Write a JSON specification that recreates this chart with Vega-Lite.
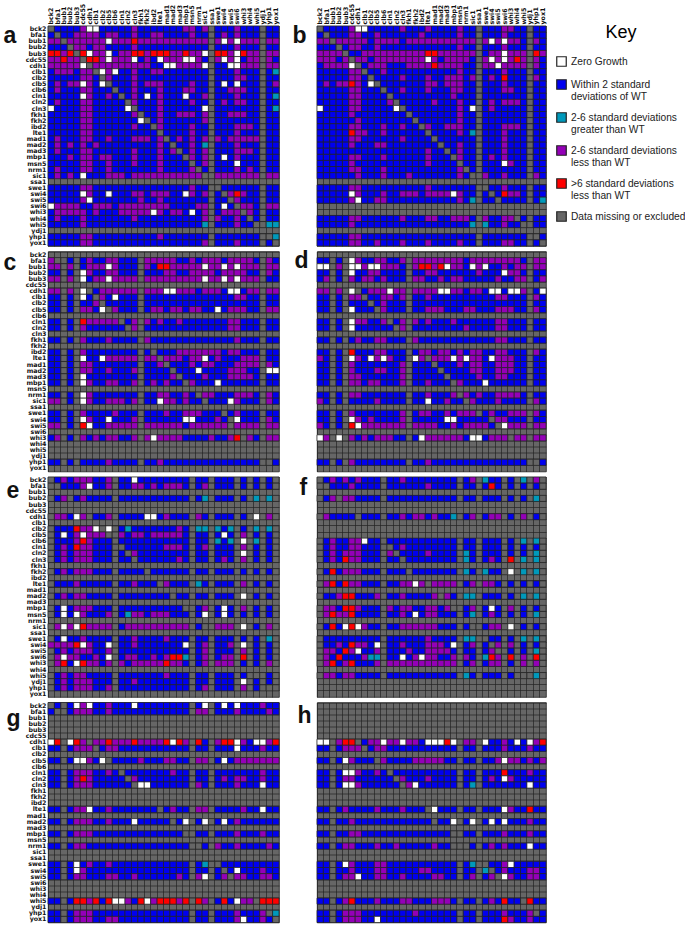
{"$schema":"https://vega.github.io/schema/vega-lite/v6.json","padding":{"left":2,"top":2,"right":0,"bottom":0},"background":"white",
"params":[{"name":"genes","value":["bck2","bfa1","bub1","bub2","bub3","cdc55","cdh1","clb1","clb2","clb5","clb6","cln1","cln2","cln3","fkh1","fkh2","ibd2","lte1","mad1","mad2","mad3","mbp1","msn5","nrm1","sic1","ssa1","swe1","swi4","swi5","swi6","whi3","whi4","whi5","ydj1","yhp1","yox1"]}],
"datasets":{
"a":[
{"r":"bck2","v":[5,1,1,1,1,3,0,0,1,1,1,1,1,3,1,1,1,1,1,1,1,3,3,1,3,5,1,1,1,3,1,1,1,5,1,1]},
{"r":"bfa1","v":[1,5,1,1,3,3,3,3,1,3,3,1,1,3,1,1,3,3,1,1,1,1,3,1,1,5,1,3,1,3,1,1,1,5,1,1]},
{"r":"bub1","v":[3,3,5,3,3,3,3,3,3,0,3,3,3,4,3,3,3,3,3,3,3,3,3,3,3,5,3,0,3,0,3,3,3,5,3,3]},
{"r":"bub2","v":[1,1,1,5,3,3,1,3,3,1,1,1,1,3,1,1,1,1,1,1,1,1,1,1,1,5,1,1,1,3,1,1,1,5,1,1]},
{"r":"bub3","v":[4,4,3,4,5,4,0,3,3,0,1,3,3,4,4,3,4,4,4,3,3,4,3,3,0,5,4,4,3,0,4,3,3,5,3,3]},
{"r":"cdc55","v":[3,3,4,3,3,5,4,4,3,0,3,3,3,0,1,3,1,0,3,3,3,0,0,3,1,5,3,0,3,0,1,3,3,5,3,1]},
{"r":"cdh1","v":[3,3,3,3,3,0,5,3,3,3,3,3,3,3,3,3,1,1,0,0,3,3,3,3,0,5,1,1,0,0,3,3,3,5,3,3]},
{"r":"clb1","v":[1,3,3,3,1,3,3,5,0,3,0,1,1,3,1,1,3,3,1,1,1,1,1,1,1,5,1,1,1,3,1,1,1,5,1,2]},
{"r":"clb2","v":[1,1,1,1,1,3,3,1,5,3,1,1,1,3,1,1,1,1,1,1,1,1,1,1,1,5,1,1,1,3,3,1,1,5,1,1]},
{"r":"clb5","v":[1,3,1,3,3,0,3,1,0,5,1,1,1,3,1,3,3,3,1,1,1,1,3,1,1,5,1,0,1,0,1,1,1,5,1,3]},
{"r":"clb6","v":[1,3,1,1,1,3,3,1,1,1,5,1,1,3,1,1,1,3,1,1,1,3,3,1,1,5,1,1,3,3,3,1,1,5,1,1]},
{"r":"cln1","v":[1,1,1,1,1,0,3,1,1,3,1,5,1,3,1,0,1,3,1,1,1,0,1,1,3,5,1,1,1,3,1,1,1,5,1,2]},
{"r":"cln2","v":[1,3,1,1,1,3,3,1,1,1,1,1,5,3,1,1,1,3,1,1,1,1,3,1,1,5,1,3,1,3,3,1,1,5,1,1]},
{"r":"cln3","v":[0,1,1,1,1,3,3,1,1,1,1,1,0,5,1,1,1,3,1,1,1,1,1,1,0,5,1,1,1,1,1,1,1,5,1,2]},
{"r":"fkh1","v":[1,1,1,1,1,3,3,1,1,1,1,1,1,3,5,1,1,3,1,1,3,3,3,1,3,5,1,1,3,3,3,1,1,5,1,1]},
{"r":"fkh2","v":[1,1,1,1,1,3,3,1,1,1,1,1,1,1,0,5,1,3,1,1,1,1,1,1,3,5,1,1,1,1,1,1,1,5,1,1]},
{"r":"ibd2","v":[1,1,1,1,1,3,3,1,1,1,1,1,1,3,1,1,5,3,1,1,1,1,3,1,1,5,1,1,1,3,3,3,1,5,1,1]},
{"r":"lte1","v":[1,1,1,1,1,3,3,1,1,1,1,1,1,1,1,1,1,5,1,1,1,1,3,1,1,5,1,1,1,3,1,1,1,5,1,1]},
{"r":"mad1","v":[1,3,1,1,1,3,3,1,1,3,1,1,1,3,3,3,1,3,5,1,3,1,3,1,3,5,3,1,3,3,3,3,3,5,1,1]},
{"r":"mad2","v":[1,3,1,3,1,3,1,3,1,1,1,1,1,1,1,1,1,3,1,5,1,1,3,1,2,5,1,1,1,3,1,1,1,5,1,1]},
{"r":"mad3","v":[1,3,1,1,1,3,3,1,1,1,1,1,1,3,1,1,1,3,1,3,5,1,3,1,3,5,1,1,1,3,3,3,1,5,1,1]},
{"r":"mbp1","v":[1,1,1,3,1,3,3,1,3,3,1,1,1,3,1,1,1,3,1,1,1,5,3,1,3,5,1,0,1,3,1,1,1,5,1,1]},
{"r":"msn5","v":[1,1,1,1,1,3,3,1,1,3,1,1,1,3,1,1,1,3,1,1,1,1,5,1,3,5,1,1,1,0,1,1,1,5,1,1]},
{"r":"nrm1","v":[1,3,1,1,1,3,3,1,1,3,1,1,1,1,1,1,1,3,1,1,1,1,3,5,1,5,1,1,1,3,1,3,1,5,1,1]},
{"r":"sic1","v":[1,3,1,3,1,0,1,1,1,3,3,3,1,3,3,3,3,3,3,3,3,3,3,3,5,5,3,3,3,3,3,3,3,5,3,3]},
{"r":"swe1","v":[1,1,1,1,1,3,3,1,1,1,1,1,1,1,1,1,1,1,1,1,1,1,3,1,1,5,5,1,1,1,1,1,1,5,1,1]},
{"r":"swi4","v":[1,1,1,1,1,0,3,1,1,0,1,1,1,3,3,1,3,3,3,1,1,0,3,1,3,5,1,5,3,4,3,1,1,5,1,1]},
{"r":"swi5","v":[1,1,1,1,1,3,0,1,1,1,1,1,1,1,3,1,1,3,1,1,1,1,1,1,1,5,1,1,5,3,1,1,1,5,1,1]},
{"r":"swi6","v":[0,3,3,3,3,1,1,3,3,3,1,3,3,3,3,3,3,3,3,1,1,1,1,3,3,5,1,0,1,5,3,3,1,5,3,3]},
{"r":"whi3","v":[1,3,3,3,3,3,1,3,1,1,1,3,3,3,3,3,0,3,1,3,3,1,0,1,3,5,1,3,3,3,5,3,1,5,1,1]},
{"r":"whi4","v":[1,3,1,1,1,3,1,1,1,1,1,1,1,3,1,1,1,1,1,1,1,1,1,1,3,5,3,1,1,3,1,5,1,5,1,1]},
{"r":"whi5","v":[1,1,1,1,1,3,1,1,1,1,1,1,1,1,1,1,1,1,1,1,1,1,1,1,2,5,1,1,1,3,1,1,5,5,2,2]},
{"r":"yhp1","v":[1,1,1,1,1,3,3,1,1,1,1,1,1,1,1,1,1,3,1,1,1,1,1,1,1,5,1,1,1,1,1,1,1,5,5,2]},
{"r":"yox1","v":[1,1,1,1,1,3,3,1,1,1,1,1,1,1,1,1,1,1,1,1,1,1,1,1,3,5,1,1,1,3,1,1,1,5,1,5]}],
"b":[
{"r":"bck2","v":[5,1,1,1,1,3,0,0,1,1,1,1,1,3,1,1,1,3,1,1,1,1,3,1,1,5,1,1,1,3,3,1,1,5,1,1]},
{"r":"bfa1","v":[1,5,1,1,1,3,3,1,1,3,1,1,1,1,1,1,3,1,1,1,1,1,3,1,1,5,1,1,1,3,1,1,1,5,1,1]},
{"r":"bub1","v":[3,3,5,3,3,3,3,3,1,3,3,3,3,1,3,3,3,3,3,3,3,3,3,3,3,5,3,0,3,0,3,3,1,5,3,1]},
{"r":"bub2","v":[1,1,1,5,1,3,3,1,1,3,1,1,1,1,1,1,1,1,1,1,1,1,3,1,1,5,1,1,1,3,1,1,1,5,1,1]},
{"r":"bub3","v":[3,3,3,3,5,1,1,3,3,3,3,3,3,3,3,3,3,4,4,3,3,3,3,3,3,5,1,3,3,0,3,3,3,5,4,3]},
{"r":"cdc55","v":[3,3,3,1,3,5,3,3,1,3,3,3,3,3,3,3,3,0,3,1,3,3,3,3,1,5,3,0,3,0,3,4,3,5,3,1]},
{"r":"cdh1","v":[1,3,3,3,3,0,5,1,3,3,3,1,1,1,3,3,3,3,4,3,3,3,3,1,1,5,3,3,0,3,3,3,3,5,3,1]},
{"r":"clb1","v":[1,1,1,1,1,3,3,5,1,1,3,1,1,1,1,1,1,1,1,1,1,1,3,1,1,5,1,1,1,3,1,1,1,5,1,1]},
{"r":"clb2","v":[1,1,1,1,1,3,3,1,5,1,1,1,1,3,1,1,1,3,1,1,3,3,3,1,3,5,1,3,1,4,1,1,1,5,3,1]},
{"r":"clb5","v":[1,3,1,3,3,4,3,1,0,5,1,1,1,1,1,1,1,3,3,1,3,3,3,1,1,5,1,1,1,3,1,1,1,5,1,1]},
{"r":"clb6","v":[1,1,1,1,1,3,3,1,1,1,5,1,1,3,1,1,1,3,1,1,1,3,3,1,1,5,1,1,1,3,3,1,1,5,1,1]},
{"r":"cln1","v":[1,1,1,1,1,3,3,1,1,1,1,5,1,1,1,1,1,1,1,1,1,3,1,1,1,5,1,1,1,1,1,1,1,5,1,1]},
{"r":"cln2","v":[1,1,1,1,1,3,3,1,1,1,1,3,5,1,1,1,1,1,3,1,1,1,3,1,1,5,1,3,1,3,3,3,1,5,1,1]},
{"r":"cln3","v":[0,1,1,1,1,3,3,1,1,1,1,1,0,5,1,1,1,1,1,1,1,1,3,1,0,5,1,3,1,1,1,1,1,5,1,1]},
{"r":"fkh1","v":[1,1,1,1,1,3,1,1,1,1,1,1,1,1,5,1,1,1,1,1,1,1,3,1,1,5,1,1,1,1,1,1,1,5,1,1]},
{"r":"fkh2","v":[1,1,1,1,1,1,3,1,1,1,1,1,1,1,1,5,1,1,1,1,1,1,3,1,1,5,1,1,1,1,1,1,1,5,1,1]},
{"r":"ibd2","v":[1,1,1,1,1,3,3,1,1,1,3,1,1,3,1,1,5,3,1,1,3,3,3,1,1,5,1,1,1,3,3,3,1,5,1,1]},
{"r":"lte1","v":[1,1,1,1,1,4,3,3,1,1,3,1,1,1,1,1,1,5,1,1,1,1,3,1,2,5,1,1,1,3,1,1,1,5,1,1]},
{"r":"mad1","v":[1,1,1,1,1,3,3,1,1,1,1,1,1,3,1,1,1,1,5,1,1,1,1,1,1,5,1,1,1,3,1,1,1,5,1,1]},
{"r":"mad2","v":[1,1,1,1,1,3,1,1,1,3,3,1,1,1,1,1,1,1,1,5,1,1,3,1,1,5,1,1,1,3,1,1,1,5,1,1]},
{"r":"mad3","v":[1,1,1,1,1,1,1,1,1,1,1,1,1,1,1,1,1,3,1,1,5,1,3,1,1,5,1,1,1,3,1,1,1,5,1,1]},
{"r":"mbp1","v":[1,1,1,1,1,3,3,1,1,1,3,1,1,1,1,1,1,3,1,1,1,5,3,1,1,5,1,3,1,3,1,1,1,5,1,1]},
{"r":"msn5","v":[1,1,1,1,1,3,1,1,1,1,1,1,1,1,1,1,1,3,1,1,1,1,5,1,1,5,1,1,1,0,3,1,1,5,1,1]},
{"r":"nrm1","v":[1,1,1,1,1,3,3,1,1,1,3,1,1,1,1,1,1,1,1,1,1,1,3,5,1,5,1,1,1,1,1,1,1,5,1,1]},
{"r":"sic1","v":[1,1,1,1,1,1,3,1,1,1,3,1,1,1,3,1,1,1,1,1,1,1,3,1,5,5,3,1,1,3,1,1,1,5,3,1]},
{"r":"swe1","v":[1,1,1,1,1,3,3,1,1,1,1,1,1,1,1,1,1,3,1,1,1,1,1,1,1,5,5,1,1,3,1,1,1,5,1,1]},
{"r":"swi4","v":[1,1,1,1,1,0,3,1,1,1,3,1,1,3,3,3,1,3,3,3,3,0,3,1,1,5,1,5,1,4,3,3,1,5,1,1]},
{"r":"swi5","v":[1,1,1,1,1,3,0,1,1,3,3,1,1,1,1,1,1,1,1,1,1,1,3,1,2,5,1,1,5,1,1,1,1,5,1,2]},
{"r":"whi4","v":[1,1,1,1,1,3,3,1,1,1,1,1,1,3,1,1,1,3,3,1,1,3,3,3,1,5,3,1,1,3,3,5,1,5,1,1]},
{"r":"whi5","v":[1,1,1,1,1,3,1,1,1,1,1,1,1,1,1,1,1,1,1,1,1,1,1,1,2,5,2,1,1,3,1,1,5,5,1,1]},
{"r":"yhp1","v":[1,1,1,1,1,3,3,1,1,1,1,1,1,1,1,1,1,1,1,1,1,1,1,1,1,5,1,1,1,1,1,1,1,5,5,1]},
{"r":"yox1","v":[1,1,1,1,1,3,3,1,1,3,1,1,1,3,1,1,1,3,1,1,1,1,3,1,1,5,1,1,1,3,3,1,1,5,1,5]}],
"c":[
{"r":"bfa1","v":[3,5,5,1,5,1,3,1,1,3,3,1,1,1,5,3,3,3,3,3,1,1,3,1,3,3,3,1,3,3,3,3,1,5,3,1]},
{"r":"bub1","v":[3,3,5,3,5,1,3,3,3,0,3,1,1,1,5,3,1,4,4,3,3,3,3,3,0,3,3,0,3,0,3,3,3,5,3,3]},
{"r":"bub2","v":[1,1,5,1,5,0,3,1,1,3,3,1,1,1,5,1,1,1,3,3,1,1,3,3,3,3,1,3,3,3,3,1,1,5,3,1]},
{"r":"bub3","v":[3,3,5,3,5,0,1,3,3,0,3,3,3,3,5,3,3,3,3,3,3,3,3,3,0,3,3,0,3,0,3,3,3,5,1,1]},
{"r":"cdh1","v":[3,3,5,3,5,0,5,1,3,3,3,3,3,3,5,3,3,3,0,0,3,3,3,1,3,3,3,1,0,0,1,3,3,5,3,3]},
{"r":"clb1","v":[1,1,5,1,5,0,1,5,3,1,0,1,1,1,5,1,1,1,1,1,1,1,1,1,1,1,1,1,1,3,3,1,1,5,1,1]},
{"r":"clb2","v":[1,1,5,1,5,1,1,3,5,1,1,1,1,1,5,1,1,1,1,1,1,1,1,1,1,1,1,1,1,1,1,1,1,5,1,1]},
{"r":"clb5","v":[1,1,5,1,5,3,3,1,0,5,3,1,1,1,5,1,3,3,1,3,3,1,3,3,1,1,0,1,3,3,3,1,1,5,3,3]},
{"r":"cln1","v":[1,1,5,1,5,4,3,3,3,3,3,5,1,3,5,3,1,3,1,1,3,1,1,1,1,1,1,1,3,3,1,1,1,5,1,1]},
{"r":"cln2","v":[1,1,5,1,5,3,1,1,1,1,1,1,5,3,5,1,1,1,1,1,1,1,1,1,1,1,1,1,3,3,1,1,1,5,1,1]},
{"r":"fkh1","v":[1,1,5,1,5,3,1,1,1,3,1,1,1,1,5,3,1,1,1,1,1,1,1,1,1,1,1,1,1,3,1,1,1,5,1,1]},
{"r":"ibd2","v":[1,1,5,1,5,3,1,1,1,1,1,1,1,1,5,1,5,1,1,1,3,3,3,3,3,3,3,1,3,3,1,1,1,5,1,1]},
{"r":"lte1","v":[1,1,5,1,5,0,1,1,0,3,3,3,3,3,5,3,3,5,3,3,3,1,3,3,0,1,3,1,1,1,3,3,3,5,1,1]},
{"r":"mad1","v":[1,1,5,1,5,3,3,1,1,1,1,1,1,1,5,1,1,3,5,1,1,1,3,1,3,3,1,1,1,3,3,3,3,5,3,1]},
{"r":"mad2","v":[1,1,5,1,5,3,3,1,1,3,1,1,1,3,5,1,1,1,1,5,1,1,1,0,1,1,1,1,3,3,3,1,1,5,0,0]},
{"r":"mad3","v":[1,1,5,1,5,0,1,1,1,1,1,1,1,1,5,1,1,1,1,3,5,1,1,1,3,1,1,1,3,3,3,3,1,5,1,1]},
{"r":"mbp1","v":[1,1,5,1,5,0,3,1,1,3,3,1,1,3,5,1,3,1,3,1,1,5,3,1,1,1,0,1,1,1,1,1,1,5,1,1]},
{"r":"nrm1","v":[1,1,5,1,5,0,3,1,1,1,1,1,1,1,5,1,1,3,3,1,1,3,1,5,3,3,1,1,1,3,3,3,1,5,3,1]},
{"r":"sic1","v":[3,3,5,1,5,0,3,1,1,3,3,3,1,3,5,1,1,0,3,3,1,3,1,1,5,1,1,1,0,3,1,1,1,5,3,1]},
{"r":"swe1","v":[1,1,5,1,5,3,1,1,1,1,3,1,1,1,5,1,1,1,3,1,1,3,3,3,1,1,1,5,1,3,1,1,1,5,1,1]},
{"r":"swi4","v":[1,1,5,1,5,0,3,1,1,0,1,1,1,3,5,1,1,1,1,1,1,0,0,1,1,1,3,1,5,0,1,1,1,5,3,1]},
{"r":"swi5","v":[3,3,5,1,5,4,0,1,1,3,3,3,3,3,5,3,3,3,3,3,3,1,3,3,3,3,3,3,5,3,3,3,3,5,3,3]},
{"r":"whi3","v":[1,3,5,1,5,3,1,3,1,3,3,1,1,3,5,3,0,3,3,3,3,1,1,1,1,3,1,1,3,4,5,3,1,5,3,3]},
{"r":"yhp1","v":[1,1,5,1,5,1,1,1,1,3,1,1,1,1,5,1,1,3,1,1,1,1,1,1,1,1,1,1,1,1,1,1,1,5,5,1]}],
"d":[
{"r":"bfa1","v":[1,1,5,1,5,0,3,1,1,3,3,1,1,3,5,3,3,3,3,3,3,3,3,1,3,3,3,3,3,3,3,3,1,5,3,3]},
{"r":"bub1","v":[0,0,5,3,5,0,0,3,0,0,3,3,3,1,5,3,4,4,3,4,0,3,3,1,0,3,0,1,1,3,1,3,3,5,3,3]},
{"r":"bub2","v":[1,1,5,1,5,0,1,1,3,3,1,1,1,1,5,1,1,3,3,1,1,1,1,1,1,3,1,1,1,0,3,3,1,5,1,1]},
{"r":"bub3","v":[1,3,5,1,5,3,1,3,3,1,3,1,1,1,5,3,3,1,1,3,1,3,3,1,1,1,1,1,3,1,1,3,3,5,1,3]},
{"r":"cdh1","v":[3,3,5,3,5,0,5,1,3,3,3,0,3,3,5,3,3,3,3,0,0,3,3,1,3,3,1,0,0,1,0,0,3,5,1,0]},
{"r":"clb1","v":[1,1,5,1,5,3,3,5,1,1,3,3,1,3,5,1,1,3,1,1,1,1,1,1,1,1,1,1,3,3,1,1,1,5,3,1]},
{"r":"clb2","v":[1,1,5,1,5,1,1,1,5,1,3,1,1,1,5,1,1,1,1,1,1,1,1,1,1,1,1,1,1,1,1,1,1,5,1,1]},
{"r":"clb5","v":[1,1,5,1,5,0,1,1,1,5,3,1,1,1,5,1,1,3,3,3,1,1,1,3,3,1,1,1,3,3,3,1,1,5,3,1]},
{"r":"cln1","v":[1,1,5,1,5,0,3,3,1,1,3,5,1,3,5,3,1,3,1,1,1,3,1,1,1,1,1,1,3,3,1,1,1,5,1,1]},
{"r":"cln2","v":[1,1,5,1,5,0,1,1,1,1,1,1,5,3,5,1,1,1,1,1,1,1,1,3,1,1,1,1,3,3,1,1,1,5,1,1]},
{"r":"fkh1","v":[1,1,5,1,5,1,3,1,1,3,3,1,1,1,5,3,1,1,1,1,1,1,1,1,1,1,1,1,3,3,1,1,1,5,1,1]},
{"r":"ibd2","v":[1,1,5,1,5,4,1,1,1,3,3,1,1,1,5,1,3,3,1,3,3,1,3,1,3,3,1,1,3,3,1,1,1,5,3,1]},
{"r":"lte1","v":[3,1,5,1,5,0,3,1,0,3,0,3,1,1,5,0,3,5,3,3,3,0,3,0,3,3,1,0,3,3,3,1,1,5,1,1]},
{"r":"mad1","v":[1,1,5,1,5,3,1,1,1,1,1,1,1,3,5,1,1,1,5,1,1,1,3,1,3,3,1,1,3,3,3,1,1,5,1,1]},
{"r":"mad2","v":[1,1,5,1,5,3,1,1,1,3,3,1,1,3,5,1,1,1,1,5,1,1,1,1,3,3,1,1,3,3,3,1,1,5,1,1]},
{"r":"mad3","v":[1,1,5,1,5,3,3,1,1,1,1,1,1,3,5,1,1,1,1,1,5,1,1,1,1,3,1,1,3,3,1,1,1,5,1,1]},
{"r":"mbp1","v":[1,1,5,1,5,3,3,1,3,3,1,1,1,3,5,1,1,3,1,1,1,5,3,1,1,1,0,1,1,1,1,1,1,5,1,1]},
{"r":"nrm1","v":[1,1,5,1,5,3,3,1,1,1,1,1,1,1,5,1,1,3,1,1,1,3,5,3,1,3,1,1,3,3,3,3,1,5,1,1]},
{"r":"sic1","v":[3,1,5,1,5,1,1,1,1,3,1,1,1,1,5,1,1,0,1,1,3,1,1,5,3,1,1,1,3,1,1,1,1,5,3,1]},
{"r":"swe1","v":[1,1,5,1,5,3,1,1,1,1,1,1,1,3,5,1,3,3,1,1,3,1,3,3,3,5,1,3,1,1,3,3,3,5,3,1]},
{"r":"swi4","v":[1,1,5,1,5,0,3,1,3,1,1,1,1,3,5,1,1,1,1,1,0,0,1,1,1,1,1,5,3,3,1,1,1,5,1,1]},
{"r":"swi5","v":[3,1,5,1,5,4,0,3,3,3,3,3,3,3,5,3,3,3,3,1,1,3,1,3,3,3,3,1,5,0,3,3,3,5,3,3]},
{"r":"whi3","v":[0,3,5,0,5,3,1,3,1,3,3,3,1,1,5,1,0,3,3,3,3,3,3,1,0,0,1,3,3,3,5,3,3,5,3,3]},
{"r":"yhp1","v":[1,1,5,1,5,3,1,1,1,1,1,1,1,1,5,1,1,3,1,1,1,1,1,1,1,1,1,1,1,1,1,1,1,5,5,1]}],
"e":[
{"r":"bck2","v":[5,1,3,1,3,3,3,1,1,3,5,1,1,0,1,1,1,1,1,1,1,1,5,1,1,5,1,1,1,5,1,5,1,5,1,5]},
{"r":"bfa1","v":[5,5,1,1,1,3,0,1,1,3,5,1,1,3,3,1,3,1,3,3,3,1,5,1,3,5,1,1,1,5,1,5,1,5,1,5]},
{"r":"bub2","v":[5,1,3,5,1,3,1,1,1,1,5,1,1,1,1,1,1,1,1,1,1,1,5,1,2,5,1,1,1,5,1,5,2,5,2,5]},
{"r":"cdh1","v":[5,3,3,1,0,3,5,1,1,3,5,1,1,1,1,0,0,1,3,1,1,1,5,3,1,5,1,1,1,5,1,5,0,5,3,5]},
{"r":"clb2","v":[5,1,1,1,4,3,3,0,5,0,5,1,2,1,1,1,1,1,1,1,3,1,5,2,2,5,2,1,2,5,1,5,2,5,2,5]},
{"r":"clb5","v":[5,1,0,1,3,0,3,3,3,5,5,3,1,3,3,1,3,3,3,3,3,1,5,1,1,5,1,0,1,5,3,5,1,5,1,5]},
{"r":"clb6","v":[5,1,1,1,3,4,3,1,1,1,5,1,1,1,1,1,1,1,1,1,1,1,5,1,1,5,2,1,2,5,0,5,2,5,1,5]},
{"r":"cln1","v":[5,1,3,1,4,3,3,1,1,1,5,5,1,1,1,1,1,1,3,3,3,1,5,1,3,5,1,1,1,5,3,5,1,5,1,5]},
{"r":"cln2","v":[5,1,3,1,3,3,3,1,1,1,5,1,5,3,1,1,1,1,1,1,1,1,5,1,1,5,1,1,1,5,0,5,1,5,1,5]},
{"r":"cln3","v":[5,1,3,1,3,3,3,1,1,1,5,1,1,5,1,1,1,1,1,1,3,1,5,1,1,5,1,3,1,5,3,5,1,5,1,5]},
{"r":"fkh2","v":[5,1,3,1,3,3,3,1,1,1,5,1,1,1,1,5,1,1,1,1,1,1,5,1,1,5,1,1,1,5,1,5,1,5,1,5]},
{"r":"lte1","v":[5,1,1,1,3,1,1,1,1,1,5,1,1,3,1,1,1,5,3,1,1,1,5,2,1,5,1,1,1,5,3,5,1,5,1,5]},
{"r":"mad2","v":[5,1,3,1,3,3,1,1,1,1,5,1,1,1,1,1,1,1,1,5,1,1,5,1,1,5,1,1,1,5,0,5,1,5,1,5]},
{"r":"mbp1","v":[5,1,0,1,3,3,3,1,1,1,5,1,1,1,1,1,1,1,1,1,1,5,5,1,3,5,1,0,1,5,3,5,1,5,1,5]},
{"r":"msn5","v":[5,1,0,1,0,3,1,1,1,3,5,1,2,3,3,1,3,3,3,1,1,1,5,1,0,5,1,0,1,5,1,5,1,5,1,5]},
{"r":"sic1","v":[5,3,0,3,0,4,3,3,3,3,5,1,3,3,3,3,3,3,3,3,3,3,5,1,5,5,3,3,3,5,0,5,1,5,3,5]},
{"r":"swe1","v":[5,1,0,1,1,3,1,1,1,1,5,1,1,3,1,1,1,1,3,1,1,1,5,1,1,5,1,1,1,5,1,5,1,5,2,5]},
{"r":"swi4","v":[3,3,3,3,4,0,3,1,1,0,5,1,1,3,1,1,1,1,1,1,1,0,5,1,3,5,1,1,3,5,0,5,1,5,1,5]},
{"r":"swi5","v":[5,1,3,1,3,3,3,1,1,3,5,1,1,1,1,1,1,1,1,1,1,1,5,1,3,5,1,1,1,5,3,5,1,5,1,5]},
{"r":"swi6","v":[5,3,0,3,3,1,1,3,1,0,5,1,3,3,1,1,3,1,3,4,4,2,5,1,3,5,1,3,3,5,4,5,1,5,1,5]},
{"r":"whi3","v":[5,3,4,1,0,4,3,3,1,3,5,3,1,3,3,3,3,3,4,3,3,1,5,1,3,5,3,3,3,5,1,5,1,5,3,5]},
{"r":"whi5","v":[5,1,3,1,3,3,1,1,1,1,5,1,1,1,1,1,1,1,3,1,1,1,5,1,1,5,1,1,1,5,1,5,5,5,1,5]},
{"r":"ydj1","v":[5,1,3,1,3,3,3,1,1,1,5,1,1,3,1,1,1,1,1,1,1,1,5,1,1,5,1,1,1,5,0,5,1,5,1,5]},
{"r":"yhp1","v":[5,1,3,1,3,3,3,1,1,3,5,1,1,1,1,1,1,1,1,1,1,1,5,1,3,5,1,1,1,5,3,5,1,5,5,5]}],
"f":[
{"r":"bck2","v":[5,1,3,1,3,1,3,1,1,1,5,1,1,3,1,1,1,1,1,1,1,1,5,1,3,5,2,1,1,5,1,5,2,5,3,5]},
{"r":"bfa1","v":[5,5,1,1,1,3,1,1,1,1,5,1,1,1,1,1,1,3,1,1,1,1,5,1,1,5,1,4,1,5,1,5,1,5,1,5]},
{"r":"bub2","v":[5,1,3,5,3,3,1,1,1,1,5,1,1,1,1,1,1,1,1,1,1,1,5,1,1,5,1,1,1,5,1,5,1,5,2,5]},
{"r":"cdh1","v":[5,3,1,1,1,1,5,1,1,1,5,1,1,3,1,3,3,1,3,1,1,2,5,1,3,5,1,3,3,5,1,5,3,5,1,5]},
{"r":"clb6","v":[5,1,3,1,1,3,3,0,1,1,5,1,1,1,1,1,1,1,1,1,1,1,5,1,1,5,1,1,1,5,1,5,2,5,2,5]},
{"r":"cln1","v":[5,1,3,1,1,3,3,1,1,1,5,5,1,3,1,1,1,1,1,1,1,1,5,1,1,5,1,1,1,5,1,5,1,5,1,5]},
{"r":"cln2","v":[5,1,3,1,3,3,3,1,1,1,5,3,5,1,1,1,1,3,1,1,1,1,5,2,1,5,1,1,1,5,1,5,1,5,2,5]},
{"r":"cln3","v":[5,1,3,1,4,3,3,1,1,1,5,1,1,5,1,1,1,1,1,1,1,1,5,2,1,5,1,3,1,5,4,5,2,5,2,5]},
{"r":"fkh2","v":[5,1,4,1,3,3,3,1,1,1,5,1,1,1,5,1,1,1,1,1,1,1,5,2,1,5,2,1,1,5,0,5,2,5,2,5]},
{"r":"lte1","v":[5,3,4,1,4,3,3,1,1,1,5,1,1,3,3,0,3,5,3,3,3,3,5,1,3,5,3,3,1,5,1,5,1,5,1,5]},
{"r":"mad2","v":[5,1,1,3,4,4,1,1,1,3,5,1,1,3,1,1,1,1,3,5,3,1,5,2,2,5,1,1,1,5,1,5,2,5,2,5]},
{"r":"mbp1","v":[5,3,3,1,4,4,3,1,1,1,5,3,1,3,3,1,1,3,3,1,3,5,5,1,3,5,1,0,1,5,3,5,1,5,1,5]},
{"r":"msn5","v":[5,3,4,3,3,4,1,1,1,1,5,1,1,3,1,0,1,3,3,1,1,1,5,1,2,5,1,3,1,5,1,5,1,5,2,5]},
{"r":"sic1","v":[5,1,4,1,0,4,0,3,1,1,5,1,1,3,3,3,3,3,3,1,1,1,5,1,5,5,1,3,3,5,0,5,1,5,1,5]},
{"r":"swe1","v":[5,1,1,1,1,1,1,1,1,1,5,1,1,1,1,1,1,3,1,1,1,1,5,2,2,5,5,1,1,5,1,5,2,5,2,5]},
{"r":"swi4","v":[5,1,1,3,1,4,3,3,1,0,5,1,1,3,1,1,1,3,3,3,1,0,5,1,3,5,1,5,3,5,3,5,1,5,1,5]},
{"r":"swi5","v":[5,3,3,1,4,3,0,1,1,3,5,1,1,1,3,1,1,3,3,3,3,1,5,1,1,5,1,3,5,5,1,5,1,5,2,5]},
{"r":"swi6","v":[5,3,1,4,1,1,1,3,2,2,5,1,1,0,1,3,0,3,3,1,1,3,5,3,1,5,2,4,3,5,4,5,3,5,4,5]},
{"r":"whi3","v":[5,3,4,1,3,4,1,1,1,3,5,3,3,3,3,3,3,3,3,3,3,3,5,1,3,5,1,3,3,5,1,5,3,5,3,5]},
{"r":"whi5","v":[5,3,3,1,3,3,1,1,1,1,5,1,1,1,1,1,1,1,1,1,1,1,5,2,1,5,1,1,1,5,1,5,5,5,2,5]}],
"g":[
{"r":"bck2","v":[5,1,5,1,0,3,0,1,1,3,1,1,1,0,1,1,1,1,1,1,1,1,5,1,0,5,1,0,1,0,1,1,1,3,1,1]},
{"r":"bfa1","v":[1,5,5,1,3,3,3,1,1,3,1,1,1,1,1,1,1,1,1,1,1,1,5,3,3,5,1,1,1,3,1,1,1,1,3,1]},
{"r":"cdh1","v":[0,4,5,0,4,3,5,3,3,4,3,3,3,4,3,3,3,3,4,0,4,3,5,4,1,5,3,4,4,0,3,1,0,0,3,4]},
{"r":"clb1","v":[1,1,5,1,3,3,3,5,1,3,3,1,1,1,1,1,1,1,1,1,1,1,5,1,1,5,1,1,1,0,1,1,1,3,1,1]},
{"r":"clb5","v":[1,1,5,1,0,0,3,1,0,5,1,1,1,1,3,1,1,1,3,3,1,1,5,3,3,5,1,0,1,3,3,3,3,3,3,3]},
{"r":"cln1","v":[1,1,5,1,3,3,3,1,1,3,1,5,1,1,1,1,1,1,1,3,1,1,5,1,1,5,1,1,1,1,1,1,1,3,1,1]},
{"r":"cln2","v":[1,1,5,1,3,4,3,1,1,1,1,1,5,3,1,1,1,1,1,1,1,1,5,1,1,5,1,3,1,3,3,1,1,3,1,1]},
{"r":"cln3","v":[1,1,5,1,3,3,3,1,1,1,1,1,1,5,0,0,1,1,1,1,1,1,5,3,1,5,1,1,1,3,1,1,1,0,1,1]},
{"r":"lte1","v":[1,1,5,1,3,3,0,1,1,3,1,1,1,1,1,1,1,5,1,3,1,1,5,3,3,5,1,1,1,1,3,1,1,0,1,1]},
{"r":"mad2","v":[1,1,5,1,3,3,3,1,1,3,1,1,1,0,1,1,1,1,1,5,1,0,5,1,0,5,1,0,1,3,1,1,1,1,1,1]},
{"r":"mbp1","v":[1,1,5,1,3,3,3,1,1,1,1,1,1,1,1,1,1,1,1,1,1,5,5,1,1,5,1,1,1,3,1,1,1,3,1,1]},
{"r":"nrm1","v":[1,1,5,1,3,3,1,1,1,1,1,1,1,1,1,1,1,1,1,1,1,1,5,5,1,5,3,1,1,3,1,1,1,1,3,1]},
{"r":"swe1","v":[1,1,5,1,0,1,3,1,1,3,1,1,1,1,1,1,1,1,1,1,1,1,5,1,2,5,5,1,1,1,1,1,1,1,1,1]},
{"r":"swi4","v":[1,1,5,1,0,3,1,1,1,1,1,1,1,1,1,1,1,1,1,1,1,1,5,1,1,5,1,5,1,0,1,1,1,3,1,1]},
{"r":"swi5","v":[1,1,5,1,3,3,1,1,1,3,3,1,1,3,1,1,1,1,1,1,3,1,5,3,0,5,1,3,5,3,3,1,1,3,3,1]},
{"r":"whi5","v":[1,1,5,1,4,4,3,4,1,4,0,0,3,1,4,0,3,4,4,4,3,4,5,4,3,5,1,4,1,0,3,3,5,4,4,4]},
{"r":"yhp1","v":[1,1,5,1,3,3,3,1,1,1,1,1,1,1,1,1,1,1,1,1,1,1,5,1,1,5,1,1,1,3,1,1,1,3,5,2]},
{"r":"yox1","v":[1,1,5,1,3,3,3,1,1,3,3,1,1,1,1,1,1,1,1,1,1,1,5,1,1,5,1,1,1,3,0,1,1,3,1,5]}],
"h":[
{"r":"cdh1","v":[0,0,5,3,4,4,5,1,3,3,0,3,3,0,3,3,1,0,0,0,4,0,5,3,3,5,0,1,1,3,1,0,1,0,3,4]},
{"r":"clb1","v":[1,1,5,1,3,3,3,5,1,3,3,1,1,1,1,1,1,1,1,1,1,1,5,1,1,5,1,1,1,3,1,1,1,3,1,1]},
{"r":"clb5","v":[1,1,5,1,0,3,1,1,1,5,3,1,1,1,1,3,3,3,3,3,1,1,5,1,1,5,1,1,3,0,3,3,1,3,1,3]},
{"r":"cln1","v":[1,1,5,1,0,0,3,1,1,3,1,5,1,1,1,1,1,1,1,1,1,1,5,1,1,5,1,1,1,4,1,1,1,3,1,1]},
{"r":"cln2","v":[1,1,5,1,3,3,1,1,1,1,1,1,5,3,1,1,1,3,1,1,1,1,5,1,1,5,1,3,1,0,3,1,1,1,1,1]},
{"r":"cln3","v":[1,1,5,1,0,0,3,1,1,1,1,1,1,5,3,0,1,1,1,1,1,1,5,1,2,5,1,1,1,1,1,1,1,0,1,1]},
{"r":"lte1","v":[1,1,5,1,3,1,1,1,1,3,1,1,1,3,1,1,1,5,0,1,1,1,5,1,1,5,1,1,1,0,3,1,1,4,1,1]},
{"r":"mad2","v":[1,1,5,1,1,3,1,1,1,1,1,1,1,1,1,1,1,1,5,1,1,0,5,1,0,5,1,0,1,0,1,1,1,3,1,1]},
{"r":"mbp1","v":[1,1,5,1,1,3,3,1,1,1,1,1,1,1,1,1,1,1,1,1,1,5,5,1,1,5,1,1,1,3,1,1,1,3,1,1]},
{"r":"nrm1","v":[1,1,5,1,3,3,1,1,1,3,1,1,3,1,1,1,1,1,3,1,1,5,5,5,1,5,1,3,1,3,1,1,1,0,1,1]},
{"r":"swe1","v":[1,1,5,1,0,3,1,1,1,3,3,1,1,1,1,1,1,1,1,1,1,1,5,1,2,5,5,1,1,3,0,1,1,1,1,1]},
{"r":"swi4","v":[1,1,5,1,1,3,1,1,1,3,3,1,1,1,1,1,3,3,1,1,1,1,5,1,1,5,2,5,1,3,1,1,1,3,3,1]},
{"r":"swi5","v":[1,1,5,1,3,3,0,1,1,3,3,1,1,3,1,1,1,1,3,3,1,1,5,1,3,5,1,3,5,0,3,1,1,3,3,1]},
{"r":"whi5","v":[1,1,5,1,3,4,1,1,1,3,1,1,1,3,3,1,1,1,3,3,3,1,5,1,1,5,1,3,1,4,1,1,5,4,1,1]},
{"r":"yhp1","v":[1,1,5,1,3,3,3,1,1,1,1,1,1,1,1,3,1,1,1,1,1,1,5,1,1,5,1,1,1,3,1,1,1,3,5,1]},
{"r":"yox1","v":[1,1,5,1,3,3,3,1,1,0,1,1,1,1,1,1,1,1,1,1,1,1,5,1,1,5,1,1,1,4,3,1,1,3,1,1]}]
},
"columns":2,"bounds":"flush","spacing":{"column":38,"row":5.5},
"concat":[
{"width":231,"height":220,"data":{"name":"a"},"transform":[{"flatten":["v"],"as":["s"]},{"window":[{"op":"row_number","as":"i"}],"groupby":["r"]}],"mark":{"type":"rect","stroke":"#222222","strokeWidth":0.7},"encoding":{
"x":{"field":"i","type":"ordinal","axis":{"orient":"top","title":null,"labelExpr":"genes[datum.value-1]","labelAngle":-90,"labels":true}},
"y":{"field":"r","type":"nominal","scale":{"domain":{"expr":"genes"}},"axis":{"title":"a","titleX":-45,"titleY":9,"labels":true}},
"color":{"field":"s","type":"nominal","scale":{"domain":[0,1,2,3,4,5],"range":["#ffffff","#0000f0","#0099bb","#9400b8","#ff0000","#666666"]},
"legend":{"orient":"none","legendX":508,"legendY":-2,"title":"Key","titleFontSize":18,"titleFont":"Liberation Sans","titleFontWeight":"normal","titleAnchor":"middle","titlePadding":14,"symbolType":"square","symbolSize":90,"symbolStrokeColor":"black","symbolStrokeWidth":1.2,"symbolOpacity":1,"labelFont":"Liberation Sans","labelFontSize":10.2,"labelColor":"#222","labelLimit":140,"rowPadding":8,"labelExpr":"[['Zero Growth'],['Within 2 standard','deviations  of WT'],['2-6 standard  deviations',' greater  than WT'],['2-6 standard  deviations','less than  WT'],['>6 standard  deviations','less than  WT'],['Data missing or excluded']][datum.value]"}}}},
{"width":229,"height":220,"data":{"name":"b"},"transform":[{"flatten":["v"],"as":["s"]},{"window":[{"op":"row_number","as":"i"}],"groupby":["r"]}],"mark":{"type":"rect","stroke":"#222222","strokeWidth":0.7},"encoding":{
"x":{"field":"i","type":"ordinal","axis":{"orient":"top","title":null,"labelExpr":"genes[datum.value-1]","labelAngle":-90,"labels":true}},
"y":{"field":"r","type":"nominal","scale":{"domain":{"expr":"genes"}},"axis":{"title":"b","titleX":-25,"titleY":9,"labels":false}},
"color":{"field":"s","type":"nominal"}}},
{"width":231,"height":220,"data":{"name":"c"},"transform":[{"flatten":["v"],"as":["s"]},{"window":[{"op":"row_number","as":"i"}],"groupby":["r"]}],"mark":{"type":"rect","stroke":"#222222","strokeWidth":0.7},"encoding":{
"x":{"field":"i","type":"ordinal","axis":{"orient":"top","title":null,"labels":false}},
"y":{"field":"r","type":"nominal","scale":{"domain":{"expr":"genes"}},"axis":{"title":"c","titleX":-45,"titleY":11,"labels":true}},
"color":{"field":"s","type":"nominal"}}},
{"width":229,"height":220,"data":{"name":"d"},"transform":[{"flatten":["v"],"as":["s"]},{"window":[{"op":"row_number","as":"i"}],"groupby":["r"]}],"mark":{"type":"rect","stroke":"#222222","strokeWidth":0.7},"encoding":{
"x":{"field":"i","type":"ordinal","axis":{"orient":"top","title":null,"labels":false}},
"y":{"field":"r","type":"nominal","scale":{"domain":{"expr":"genes"}},"axis":{"title":"d","titleX":-23,"titleY":9,"labels":false}},
"color":{"field":"s","type":"nominal"}}},
{"width":231,"height":220,"data":{"name":"e"},"transform":[{"flatten":["v"],"as":["s"]},{"window":[{"op":"row_number","as":"i"}],"groupby":["r"]}],"mark":{"type":"rect","stroke":"#222222","strokeWidth":0.7},"encoding":{
"x":{"field":"i","type":"ordinal","axis":{"orient":"top","title":null,"labels":false}},
"y":{"field":"r","type":"nominal","scale":{"domain":{"expr":"genes"}},"axis":{"title":"e","titleX":-42,"titleY":13,"labels":true}},
"color":{"field":"s","type":"nominal"}}},
{"width":229,"height":220,"data":{"name":"f"},"transform":[{"flatten":["v"],"as":["s"]},{"window":[{"op":"row_number","as":"i"}],"groupby":["r"]}],"mark":{"type":"rect","stroke":"#222222","strokeWidth":0.7},"encoding":{
"x":{"field":"i","type":"ordinal","axis":{"orient":"top","title":null,"labels":false}},
"y":{"field":"r","type":"nominal","scale":{"domain":{"expr":"genes"}},"axis":{"title":"f","titleX":-18,"titleY":10,"labels":false}},
"color":{"field":"s","type":"nominal"}}},
{"width":231,"height":220,"data":{"name":"g"},"transform":[{"flatten":["v"],"as":["s"]},{"window":[{"op":"row_number","as":"i"}],"groupby":["r"]}],"mark":{"type":"rect","stroke":"#222222","strokeWidth":0.7},"encoding":{
"x":{"field":"i","type":"ordinal","axis":{"orient":"top","title":null,"labels":false}},
"y":{"field":"r","type":"nominal","scale":{"domain":{"expr":"genes"}},"axis":{"title":"g","titleX":-42,"titleY":16,"labels":true}},
"color":{"field":"s","type":"nominal"}}},
{"width":229,"height":220,"data":{"name":"h"},"transform":[{"flatten":["v"],"as":["s"]},{"window":[{"op":"row_number","as":"i"}],"groupby":["r"]}],"mark":{"type":"rect","stroke":"#222222","strokeWidth":0.7},"encoding":{
"x":{"field":"i","type":"ordinal","axis":{"orient":"top","title":null,"labels":false}},
"y":{"field":"r","type":"nominal","scale":{"domain":{"expr":"genes"}},"axis":{"title":"h","titleX":-20,"titleY":13,"labels":false}},
"color":{"field":"s","type":"nominal"}}}
],
"config":{"view":{"fill":"#666666","stroke":"#222222","strokeWidth":0.8},
"axis":{"grid":true,"bandPosition":0,"gridColor":"#222222","gridWidth":0.7,"gridOpacity":1,"ticks":false,"domain":false,"zindex":1,"labelFont":"DejaVu Sans","labelFontWeight":"bold","labelFontSize":6.3,"labelColor":"#111","labelPadding":2,"labelOverlap":false,"labelFlush":false,"labelBound":false},
"axisY":{"titleAngle":0,"titleAlign":"left","titleBaseline":"middle","titleFont":"Liberation Sans","titleFontSize":23,"titleFontWeight":"bold","titleColor":"#111","labelAlign":"right","labelBaseline":"middle"}}
}
